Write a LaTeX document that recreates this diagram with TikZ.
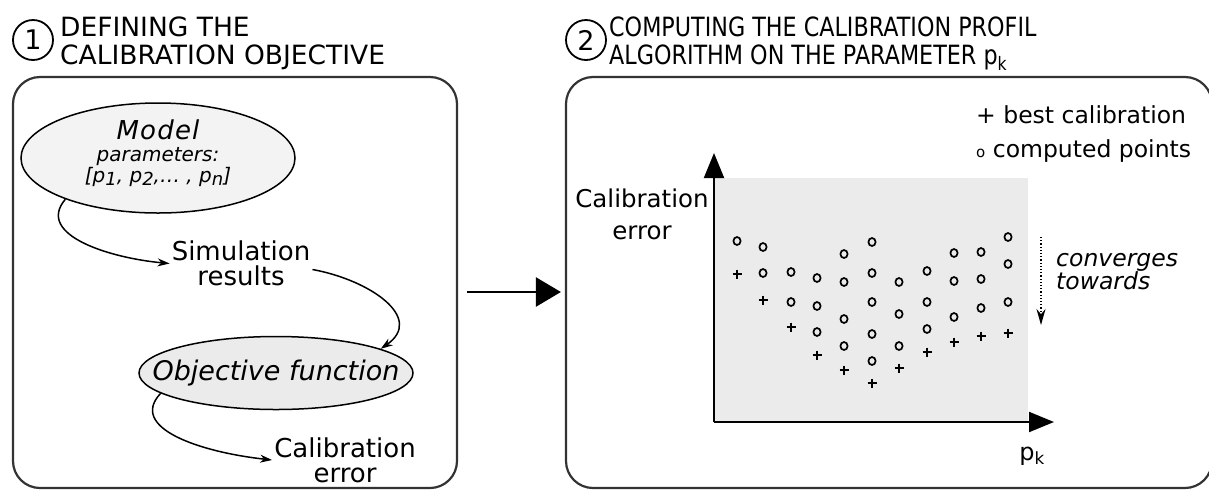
\documentclass[tikz,border=0pt]{standalone}
\usepackage{fontspec}
\setmainfont{DejaVu Sans}
\newfontfamily\hdrcond[FakeStretch=0.84]{DejaVu Sans}
\usetikzlibrary{arrows.meta,shapes.geometric}
\definecolor{boxline}{HTML}{333333}
\definecolor{modelfill}{HTML}{F3F3F3}
\definecolor{objfill}{HTML}{EBEBEB}
\definecolor{plotbg}{HTML}{EBEBEB}
\newcommand{\lowsub}[1]{\raisebox{-3pt}{\fontsize{18}{18}\selectfont #1}}
\begin{document}
\begin{tikzpicture}[x=1pt,y=-1pt,
  panel/.style={draw=boxline, line width=2.2pt, rounded corners=27pt, inner sep=0pt},
  numcirc/.style={circle, draw=black, line width=1.8pt, minimum size=40pt, inner sep=0pt, font=\fontsize{27}{27}\selectfont},
  header/.style={inner sep=0pt, align=left, font=\fontsize{26.5}{28}\selectfont},
  headerb/.style={inner sep=0pt, align=left, font=\hdrcond\fontsize{26.5}{28}\selectfont},
  label/.style={inner sep=2pt, align=center, font=\fontsize{26}{25}\selectfont},
  rlabel/.style={inner sep=2pt, align=center, font=\fontsize{24.5}{32}\selectfont},
  legend/.style={inner sep=0pt, font=\fontsize{23.5}{23.5}\selectfont},
  bubble/.style={ellipse, draw=black, line width=1.5pt, inner sep=0pt},
  flowarr/.style={draw=black, line width=1.5pt, -{Stealth[length=12pt,width=8pt]}},
  bigarr/.style={draw=black, line width=2.5pt, -{Triangle[length=25pt,width=29pt]}},
  axisarr/.style={draw=black, line width=2pt, -{Triangle[length=25pt,width=20pt]}},
  convarr/.style={draw=black, line width=1.2pt, dotted, -{Stealth[length=16pt,width=9pt]}},
  ptc/.style={draw=black, line width=1.7pt},
  ptp/.style={draw=black, line width=1.8pt}
]
\useasboundingbox (0,0) rectangle (1209,491);

% panels
\node[panel, minimum width=444pt, minimum height=411pt] (p1) at (235,282.5) {};
\node[panel, minimum width=646pt, minimum height=411pt] (p2) at (889,282.5) {};

% headers
\node[numcirc] (n1) at (33,40) {1};
\node[header, anchor=north west] (h1) at (60,16.5) {DEFINING THE\\CALIBRATION OBJECTIVE};
\node[numcirc] (n2) at (586,40) {2};
\node[headerb, anchor=north west] (h2) at (609,17) {COMPUTING THE CALIBRATION PROFIL\\ALGORITHM ON THE PARAMETER p\textsubscript{k}};

% left panel
\node[bubble, fill=modelfill, minimum width=274pt, minimum height=110pt, align=center, text depth=14pt, font=\itshape\fontsize{20}{21}\selectfont] (model) at (158,158)
  {{\fontsize{26}{26}\selectfont M\kern1.2pt o\kern1.2pt d\kern1.2pt e\kern1.2pt l}\\[1pt] parameters:\\{[}p\lowsub{1},\ p\lowsub{2},…\ , p\lowsub{n}{]}};
\node[label] (sim) at (241,263.5) {Simulation\\results};
\node[bubble, fill=objfill, minimum width=274pt, minimum height=73pt, font=\itshape\fontsize{27}{27}\selectfont] (obj) at (276,373) {\makebox[0pt]{Objective function}};
\node[label] (calerr) at (345,460) {Calibration\\error};

\draw[flowarr] (model.204) .. controls (35,235) and (110,258) .. (sim.west);
\draw[flowarr] ([yshift=-6pt]sim.east) .. controls (370,280) and (425,318) .. (obj.13);
\draw[flowarr] (obj.190) .. controls (128,428) and (200,452) .. (calerr.west);

% arrow between panels
\coordinate (parrow) at (467,292);
\draw[bigarr] (parrow) -- ([xshift=-4pt]parrow -| p2.west);

% right panel: plot
\fill[plotbg] (714,178) rectangle (1028,422);
\coordinate (O) at (714,422);
\coordinate (Ytip) at (714,153);
\coordinate (Xtip) at (1054,422);
\draw[axisarr] (O) -- (Ytip);
\draw[axisarr] (O) -- (Xtip);
\node[rlabel] (yl) at (642,214) {Calibration\\error};
\node[inner sep=0pt, anchor=base, font=\fontsize{24}{24}\selectfont] (xl) at (1032,460) {p\textsubscript{k}};

\node[legend, anchor=base west] (leg1) at (976,123) {+ best calibration};
\node[legend, anchor=base west] (leg2) at (976,157) {{\fontsize{15}{15}\selectfont o} computed points};

\coordinate (cvA) at (1041,237);
\coordinate (cvB) at (1041,325);
\draw[convarr] (cvA) -- (cvB);
\node[inner sep=0pt, anchor=west, align=left, font=\itshape\fontsize{23.5}{23}\selectfont] (conv) at (1056,272) {converges\\towards};

% computed points
\foreach \x/\y in {737/241, 763/247, 763/273, 791/272, 791/302,
  817/278, 817/306, 817/332, 844/254, 844/282, 844/319, 844/346,
  872/242, 872/273, 872/302, 872/334, 872/361, 899/282, 899/314, 899/346,
  927/271, 927/302, 927/329, 954/253, 954/281, 954/317,
  981/252, 981/279, 981/308, 1008/237, 1008/264, 1008/302}
  \draw[ptc] (\x,\y) ellipse (3.6pt and 4pt);
% best calibration
\foreach \x/\y in {737/274, 763/300, 791/327, 817/355, 844/370, 872/383,
  899/368, 927/352, 954/342, 981/336, 1008/333}
  \draw[ptp] (\x-4.5,\y) -- (\x+4.5,\y) (\x,\y-4.5) -- (\x,\y+4.5);
\end{tikzpicture}
\end{document}
